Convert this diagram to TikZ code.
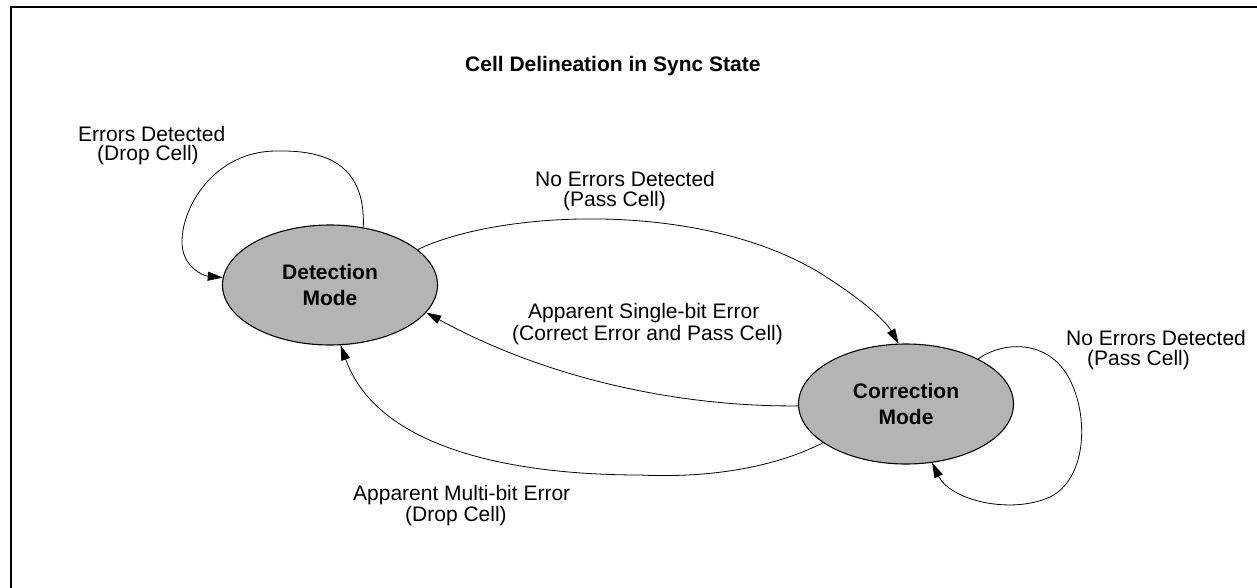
\documentclass[tikz,border=0pt]{standalone}
\usepackage{fontspec}
\setmainfont{Liberation Sans}
\usetikzlibrary{shapes.geometric,arrows.meta}
\definecolor{stategray}{RGB}{180,180,180}
\tikzset{
  state/.style={ellipse, draw=black, line width=1.1pt, fill=stategray,
    minimum width=215pt, minimum height=120pt, inner sep=0pt, align=center,
    font=\fontsize{21}{26}\selectfont\bfseries},
  lbl/.style={anchor=base west, inner sep=0pt, font=\fontsize{21}{24}\selectfont},
  ttl/.style={anchor=base west, inner sep=0pt, font=\fontsize{21}{24}\selectfont\bfseries},
  conn/.style={draw=black, line width=0.8pt, -{Triangle[length=15pt,width=9pt]}},
  frame/.style={draw=black, line width=2pt}
}
\begin{document}
\begin{tikzpicture}[x=1pt,y=-1pt]
\useasboundingbox (0,0) rectangle (1257,588);
% partial frame
\coordinate (fbl) at (11,600);
\coordinate (ftl) at (11,7);
\coordinate (ftr) at (1270,7);
\draw[frame] (fbl) -- (ftl) -- (ftr);

\node[ttl] (title) at (465,71.5) {Cell Delineation in Sync State};

\node[state] (det) at (330,285) {Detection\\Mode};
\node[state] (cor) at (906,404) {Correction\\Mode};

% self loop on Detection
\draw[conn] (det.60) .. controls (366,160) and (320,150) .. (275,151)
  .. controls (215,152) and (183,205) .. (182,240)
  .. controls (181,268) and (205,276) .. (det.176);

% Detection -> Correction (No Errors Detected)
\draw[conn] (det.22) .. controls (500,210) and (700,200) .. (820,273)
  .. controls (860,298) and (885,320) .. (cor.97);

% Correction -> Detection (single-bit)
\draw[conn] (cor.181) .. controls (690,407) and (555,383) .. (det.-16);

% Correction -> Detection (multi-bit)
\draw[conn] (cor.205) .. controls (770,470) and (700,478) .. (640,475)
  .. controls (530,475) and (380,455) .. (det.-80);

% self loop on Correction
\draw[conn] (cor.32) .. controls (1005,340) and (1050,340) .. (1070,380)
  .. controls (1090,420) and (1085,480) .. (1050,497)
  .. controls (1010,515) and (950,500) .. (cor.-66);

% labels
\node[lbl] (l1a) at (78,141.5) {Errors Detected};
\node[lbl] (l1b) at (97,161) {(Drop Cell)};
\node[lbl] (l2a) at (535,186.5) {No Errors Detected};
\node[lbl] (l2b) at (563,206.5) {(Pass Cell)};
\node[lbl] (l3a) at (528,318) {Apparent Single-bit Error};
\node[lbl] (l3b) at (512,340) {(Correct Error and Pass Cell)};
\node[lbl] (l4a) at (1066,345) {No Errors Detected};
\node[lbl] (l4b) at (1087,365) {(Pass Cell)};
\node[lbl] (l5a) at (353,500) {Apparent Multi-bit Error};
\node[lbl] (l5b) at (405,521) {(Drop Cell)};
\end{tikzpicture}
\end{document}
